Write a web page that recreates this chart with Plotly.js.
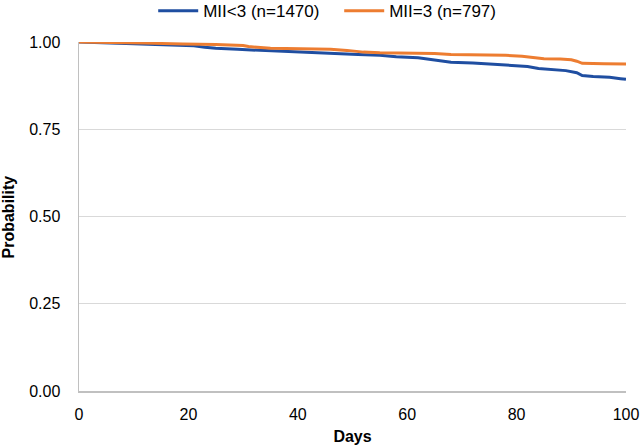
<!DOCTYPE html>
<html>
<head>
<meta charset="utf-8">
<script src="https://cdn.plot.ly/plotly-3.0.1.min.js"></script>
<style>html,body{margin:0;padding:0;background:#fff;}#chart{width:640px;height:448px;}</style>
</head>
<body>
<div id="chart"></div>
<script>
const seriesNames = ["MII<3 (n=1470)", "MII=3 (n=797)"];
const blueDays = [0,3,6,10,14,18,21,23,25,29,32,35,40,43,47,51,55,58,62,64,66,68,72,76,79,82,84,87,89,91,92,94,97,99,100];
const blueProb = [1.0,0.998,0.996,0.995,0.993,0.991,0.989,0.985,0.982,0.979,0.977,0.973,0.970,0.968,0.966,0.964,0.962,0.958,0.955,0.950,0.946,0.942,0.940,0.936,0.934,0.930,0.924,0.921,0.918,0.912,0.904,0.901,0.899,0.895,0.893];
const orangeDays = [0,5,12,19,25,30,31,35,40,46,49,52,55,62,65,68,72,78,81,83,85,88,90,91,92,96,98,100];
const orangeProb = [1.0,0.999,0.997,0.994,0.993,0.990,0.987,0.982,0.981,0.979,0.976,0.971,0.969,0.968,0.967,0.964,0.963,0.962,0.959,0.955,0.952,0.951,0.949,0.945,0.939,0.938,0.937,0.937];
const yTicks = [0, 0.25, 0.5, 0.75, 1.0];
const yTickText = ["0.00", "0.25", "0.50", "0.75", "1.00"];
const xTicks = [0, 20, 40, 60, 80, 100];
const xTitle = "Days";
const yTitle = "Probability";

const traces = [
  {x: blueDays, y: blueProb, name: seriesNames[0], type: "scatter", mode: "lines",
   line: {color: "#1F4EA1", width: 3}},
  {x: orangeDays, y: orangeProb, name: seriesNames[1], type: "scatter", mode: "lines",
   line: {color: "#ED7D31", width: 3}}
];
const layout = {
  width: 640, height: 448,
  margin: {l: 79, r: 14, t: 42, b: 57, autoexpand: false},
  paper_bgcolor: "#fff", plot_bgcolor: "#fff",
  font: {family: "Liberation Sans, Arial, sans-serif", size: 16, color: "#000"},
  showlegend: true,
  legend: {orientation: "h", xref: "container", yref: "paper",
           x: 0.53, xanchor: "center", y: 1.14, yanchor: "top",
           font: {size: 17}, itemwidth: 40, traceorder: "normal",
           entrywidth: 131, entrywidthmode: "pixels"},
  xaxis: {range: [0, 100], tickvals: xTicks, showgrid: false, zeroline: false,
          showline: true, linecolor: "#c0c0c0", linewidth: 1.5, ticks: "",
          ticklabelstandoff: 8, automargin: false,
          title: {text: "<b>" + xTitle + "</b>", font: {size: 16}, standoff: 9}},
  yaxis: {range: [0, 1.0], tickvals: yTicks, ticktext: yTickText, showgrid: true,
          gridcolor: "#d9d9d9", gridwidth: 1, zeroline: false,
          showline: true, linecolor: "#c0c0c0", linewidth: 1.5, ticks: "",
          ticklabelstandoff: 14, automargin: false},
  annotations: [
    {text: "<b>" + yTitle + "</b>", xref: "paper", yref: "paper", x: -0.128, y: 0.5,
     xanchor: "center", yanchor: "middle", textangle: -90, showarrow: false,
     font: {size: 16, color: "#000"}}
  ]
};
Plotly.newPlot("chart", traces, layout, {displayModeBar: false, staticPlot: true});
</script>
</body>
</html>
